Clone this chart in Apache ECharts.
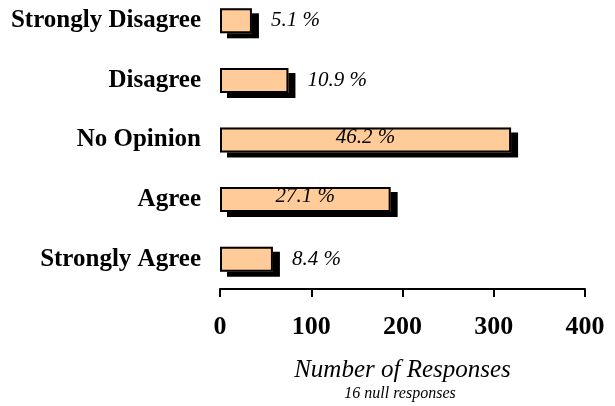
<!DOCTYPE html>
<html>
<head>
<meta charset="utf-8">
<script src="https://cdn.jsdelivr.net/npm/echarts@6/dist/echarts.min.js"></script>
<style>html,body{margin:0;padding:0;background:#fff;}#c{width:615px;height:406px;}</style>
</head>
<body>
<div id="c"></div>
<script>
const categories = ["Strongly Disagree", "Disagree", "No Opinion", "Agree", "Strongly Agree"];
const counts = [35, 75, 319, 187, 58];
const percentLabels = ["5.1 %", "10.9 %", "46.2 %", "27.1 %", "8.4 %"];
const xTicks = [0, 100, 200, 300, 400];
const axisTitle = "Number of Responses";
const noteText = "16 null responses";

const serif = "'Liberation Serif', 'Times New Roman', serif";
const chart = echarts.init(document.getElementById('c'), null, {renderer: 'canvas'});

const labelData = counts.map((v, i) => {
  const inside = v > 150;
  return {
    value: v,
    label: {
      show: true,
      formatter: percentLabels[i],
      position: inside ? 'inside' : 'right',
      distance: inside ? 0 : 19,
      offset: inside ? [0, -3] : [0, 0],
      fontFamily: serif,
      fontStyle: 'italic',
      fontSize: 21,
      color: '#000'
    }
  };
});

chart.setOption({
  animation: false,
  backgroundColor: '#fff',
  grid: {left: 220, right: 30, top: -9, bottom: 117, containLabel: false, outerBoundsMode: 'none'},
  xAxis: {
    type: 'value',
    min: xTicks[0],
    max: xTicks[xTicks.length - 1],
    interval: 100,
    splitLine: {show: false},
    axisLine: {show: true, lineStyle: {color: '#000', width: 2}},
    axisTick: {show: true, inside: false, length: 8, lineStyle: {color: '#000', width: 2}},
    axisLabel: {margin: 25, fontFamily: serif, fontWeight: 'bold', fontSize: 26, color: '#000'},
    name: axisTitle,
    nameLocation: 'middle',
    nameGap: 69,
    nameTextStyle: {fontFamily: serif, fontStyle: 'italic', fontSize: 25, color: '#000'}
  },
  yAxis: {
    type: 'category',
    data: categories,
    inverse: true,
    axisLine: {show: false},
    axisTick: {show: false},
    splitLine: {show: false},
    axisLabel: {margin: 19, fontFamily: serif, fontWeight: 'bold', fontSize: 25, color: '#000'}
  },
  series: [{
    name: 'shadowFill',
    type: 'bar',
    data: counts,
    barWidth: 25,
    silent: true,
    itemStyle: {
      color: '#FFCC99',
      borderWidth: 0,
      shadowColor: '#000',
      shadowBlur: 0,
      shadowOffsetX: 7,
      shadowOffsetY: 5
    }
  }, {
    name: 'outline',
    type: 'bar',
    data: labelData,
    barWidth: 25,
    barGap: '-100%',
    itemStyle: {
      color: 'rgba(0,0,0,0)',
      borderColor: '#000',
      borderWidth: 2
    }
  }],
  graphic: [{
    type: 'text',
    x: 400,
    y: 394,
    style: {text: noteText, fontFamily: serif, fontStyle: 'italic', fontSize: 16, fill: '#000', textAlign: 'center', textVerticalAlign: 'middle'}
  }]
});
</script>
</body>
</html>
